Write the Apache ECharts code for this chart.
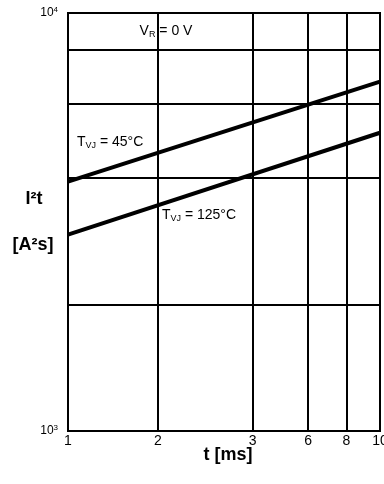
<!DOCTYPE html>
<html>
<head>
<meta charset="utf-8">
<script src="https://cdn.jsdelivr.net/npm/echarts@6/dist/echarts.min.js"></script>
<style>
  html, body { margin: 0; padding: 0; background: #fff; }
  #main { width: 384px; height: 484px; }
</style>
</head>
<body>
<div id="main"></div>
<script>
// t [ms] and I2t [A2s] (straight lines on log-log)
var tMs = [1, 10];
var i2t45 = [3950, 6850];
var i2t125 = [2950, 5170];

// grid lines (positions as drawn in the picture) and tick labels
var xGridValues = [1.94, 3.91, 5.88, 7.8];
var xTickValues = [1, 1.94, 3.91, 5.88, 7.8, 10];
var xTickLabels = ['1', '2', '3', '6', '8', '10'];
var yGridValues = [2000, 4040, 6080, 8150];
var yTickValues = [1000, 10000];
var yTickExp = ['3', '4'];

var FONT = 'Liberation Sans, Arial, sans-serif';

function pairs(xs, ys) {
  var out = [];
  for (var i = 0; i < xs.length; i++) out.push([xs[i], ys[i]]);
  return out;
}

var subRich = {
  a: { fontSize: 14, fontFamily: FONT, lineHeight: 16, color: '#000' },
  s: { fontSize: 9, fontFamily: FONT, lineHeight: 10, verticalAlign: 'bottom', color: '#000' }
};

function label(x, y, text, align) {
  return {
    type: 'text', x: x, y: y, silent: true,
    style: {
      text: text, rich: subRich,
      align: align, textAlign: align,
      verticalAlign: 'middle', textVerticalAlign: 'middle'
    }
  };
}

function boldText(x, y, text) {
  return {
    type: 'text', x: x, y: y, silent: true,
    style: {
      text: text, fill: '#000',
      font: 'bold 18px ' + FONT,
      align: 'center', textAlign: 'center',
      verticalAlign: 'middle', textVerticalAlign: 'middle'
    }
  };
}

var chart = echarts.init(document.getElementById('main'));
var option = {
  animation: false,
  grid: {
    left: 68, right: 4, top: 13, bottom: 53,
    show: true, borderColor: '#000', borderWidth: 2
  },
  xAxis: {
    type: 'log', logBase: 10, min: 1, max: 10,
    axisLine: { show: false }, axisTick: { show: false },
    axisLabel: { show: false }, splitLine: { show: false }
  },
  yAxis: {
    type: 'log', logBase: 10, min: 1000, max: 10000,
    axisLine: { show: false }, axisTick: { show: false },
    splitLine: { show: false },
    axisLabel: {
      margin: 10,
      formatter: function (v) {
        var i = yTickValues.indexOf(Math.round(v));
        return i < 0 ? '' : '{b|10}{s|' + yTickExp[i] + '}';
      },
      rich: {
        b: { fontSize: 12, fontFamily: FONT, lineHeight: 14, color: '#000' },
        s: { fontSize: 8, fontFamily: FONT, lineHeight: 8, verticalAlign: 'top', color: '#000' }
      }
    }
  },
  series: [
    {
      name: '45', type: 'line', symbol: 'none',
      data: pairs(tMs, i2t45),
      lineStyle: { color: '#000', width: 4 },
      markLine: {
        silent: true, symbol: 'none',
        lineStyle: { color: '#000', width: 2, type: 'solid' },
        label: { show: false },
        data: xGridValues.map(function (v) { return { xAxis: v }; })
          .concat(yGridValues.map(function (v) { return { yAxis: v }; }))
      }
    },
    {
      name: '125', type: 'line', symbol: 'none',
      data: pairs(tMs, i2t125),
      lineStyle: { color: '#000', width: 4 },
      markLine: {
        silent: true, symbol: 'none',
        lineStyle: { color: 'rgba(0,0,0,0)', width: 1 },
        data: xTickValues.map(function (v, i) {
          return {
            xAxis: v,
            label: {
              show: true, position: 'start', distance: 3,
              formatter: xTickLabels[i],
              color: '#000', fontSize: 14, fontFamily: FONT
            }
          };
        })
      }
    }
  ],
  graphic: [
    label(166, 31, '{a|V}{s|R}{a| = 0 V}', 'center'),
    label(77, 142, '{a|T}{s|VJ}{a| = 45°C}', 'left'),
    label(162, 215, '{a|T}{s|VJ}{a| = 125°C}', 'left'),
    boldText(34, 199, 'I²t'),
    boldText(33, 245, '[A²s]'),
    boldText(228, 455, 't [ms]')
  ]
};
chart.setOption(option);
</script>
</body>
</html>
